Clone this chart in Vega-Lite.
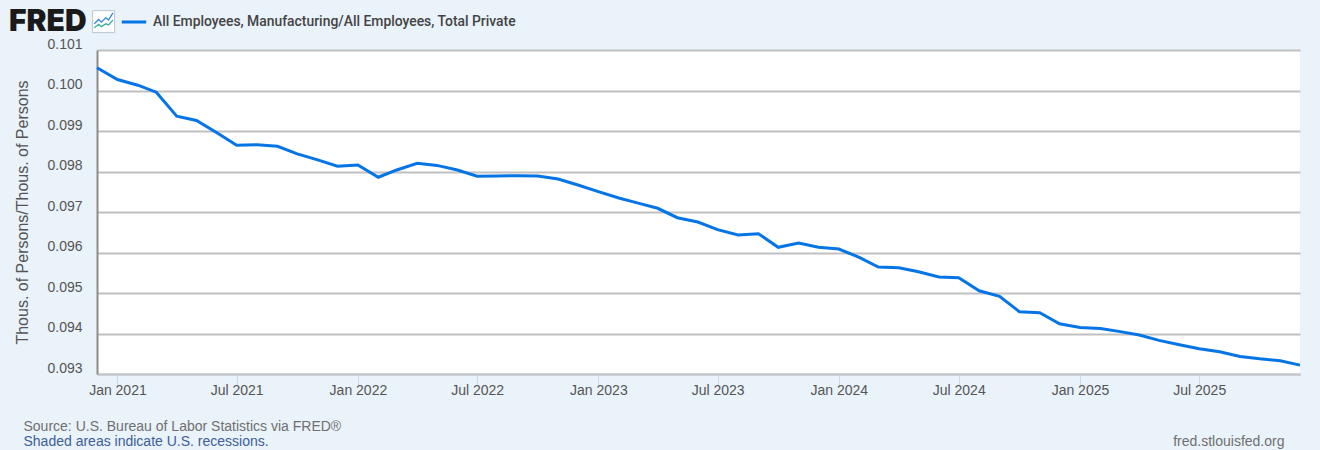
{"$schema":"https://vega.github.io/schema/vega-lite/v6.json","width":1203,"height":324,"autosize":{"type":"none"},"padding":{"left":97,"top":50,"right":20,"bottom":76},"background":"#EAF2FA","view":{"fill":"#FFFFFF","stroke":null},"title":{"text":"FRED","anchor":"start","frame":"group","dx":-88,"dy":46,"offset":17,"font":"Inter","fontWeight":900,"fontSize":30,"color":"#1A1A1A"},"config":{"font":"Liberation Sans"},"data":{"values":[{"date":"2020-12-01","ratio":0.100561},{"date":"2021-01-01","ratio":0.100272},{"date":"2021-02-01","ratio":0.100131},{"date":"2021-03-01","ratio":0.099958},{"date":"2021-04-01","ratio":0.099365},{"date":"2021-05-01","ratio":0.099259},{"date":"2021-06-01","ratio":0.098955},{"date":"2021-07-01","ratio":0.098646},{"date":"2021-08-01","ratio":0.098663},{"date":"2021-09-01","ratio":0.098621},{"date":"2021-10-01","ratio":0.098436},{"date":"2021-11-01","ratio":0.098288},{"date":"2021-12-01","ratio":0.098129},{"date":"2022-01-01","ratio":0.098161},{"date":"2022-02-01","ratio":0.097858},{"date":"2022-03-01","ratio":0.098038},{"date":"2022-04-01","ratio":0.098201},{"date":"2022-05-01","ratio":0.098151},{"date":"2022-06-01","ratio":0.098038},{"date":"2022-07-01","ratio":0.097882},{"date":"2022-08-01","ratio":0.09789},{"date":"2022-09-01","ratio":0.097897},{"date":"2022-10-01","ratio":0.09789},{"date":"2022-11-01","ratio":0.097816},{"date":"2022-12-01","ratio":0.097667},{"date":"2023-01-01","ratio":0.097502},{"date":"2023-02-01","ratio":0.097346},{"date":"2023-03-01","ratio":0.097225},{"date":"2023-04-01","ratio":0.097092},{"date":"2023-05-01","ratio":0.096859},{"date":"2023-06-01","ratio":0.096753},{"date":"2023-07-01","ratio":0.096565},{"date":"2023-08-01","ratio":0.096432},{"date":"2023-09-01","ratio":0.096464},{"date":"2023-10-01","ratio":0.096128},{"date":"2023-11-01","ratio":0.096234},{"date":"2023-12-01","ratio":0.096128},{"date":"2024-01-01","ratio":0.096086},{"date":"2024-02-01","ratio":0.095881},{"date":"2024-03-01","ratio":0.095641},{"date":"2024-04-01","ratio":0.095624},{"date":"2024-05-01","ratio":0.095525},{"date":"2024-06-01","ratio":0.095394},{"date":"2024-07-01","ratio":0.095377},{"date":"2024-08-01","ratio":0.095055},{"date":"2024-09-01","ratio":0.094917},{"date":"2024-10-01","ratio":0.094537},{"date":"2024-11-01","ratio":0.094512},{"date":"2024-12-01","ratio":0.09424},{"date":"2025-01-01","ratio":0.094151},{"date":"2025-02-01","ratio":0.094126},{"date":"2025-03-01","ratio":0.094052},{"date":"2025-04-01","ratio":0.093963},{"date":"2025-05-01","ratio":0.09383},{"date":"2025-06-01","ratio":0.093721},{"date":"2025-07-01","ratio":0.093622},{"date":"2025-08-01","ratio":0.093551},{"date":"2025-09-01","ratio":0.093434},{"date":"2025-10-01","ratio":0.093375},{"date":"2025-11-01","ratio":0.093326},{"date":"2025-12-01","ratio":0.093219}]},"resolve":{"axis":{"x":"independent","y":"independent"}},"layer":[{"mark":{"type":"line","strokeWidth":3,"clip":false},"encoding":{"x":{"field":"date","type":"temporal","scale":{"domain":["2020-12-01","2025-12-01"]},"axis":{"values":["2021-01-01","2021-07-01","2022-01-01","2022-07-01","2023-01-01","2023-07-01","2024-01-01","2024-07-01","2025-01-01","2025-07-01"],"format":"%b %Y","grid":false,"domainColor":"#C4C8D0","domainWidth":2,"tickColor":"#CFD8E6","tickSize":11,"tickWidth":1,"labelFont":"Liberation Sans","labelFontSize":14,"labelColor":"#555555","labelPadding":-2,"labelOverlap":false,"labelFlush":false,"title":"Source: U.S. Bureau of Labor Statistics via FRED®","titleFont":"Liberation Sans","titleFontSize":14,"titleFontWeight":"normal","titleColor":"#707070","titleAlign":"left","titleAnchor":"start","titleBaseline":"alphabetic","titleX":-74,"titleY":56}},"y":{"field":"ratio","type":"quantitative","scale":{"domain":[0.093,0.101],"zero":false,"nice":false},"axis":{"values":[0.093,0.094,0.095,0.096,0.097,0.098,0.099,0.1,0.101],"format":".3f","grid":true,"gridColor":"#C0C0C0","gridWidth":2,"domainColor":"#8C8C8C","domainWidth":2,"ticks":false,"labelFont":"Liberation Sans","labelFontSize":14,"labelColor":"#555555","labelPadding":15,"labelOffset":-6,"labelOverlap":false,"labelFlush":false,"title":"Thous. of Persons/Thous. of Persons","titleFont":"Liberation Sans","titleFontSize":16,"titleFontWeight":"normal","titleColor":"#555555","titleX":-67,"titleY":162}},"color":{"datum":"All Employees, Manufacturing/All Employees, Total Private","type":"nominal","scale":{"range":["#0575E6"]},"legend":{"orient":"none","legendX":23,"legendY":-42,"title":null,"symbolType":"stroke","symbolStrokeWidth":3,"symbolSize":600,"labelFont":"Roboto","labelFontWeight":500,"labelFontSize":13.9,"labelColor":"#444444","labelLimit":500,"labelOffset":5}}}},{"mark":{"type":"line","strokeWidth":3,"opacity":0,"clip":false},"encoding":{"x":{"field":"date","type":"temporal","scale":{"domain":["2020-12-01","2025-12-01"]},"axis":{"orient":"bottom","labels":false,"ticks":false,"domain":false,"grid":false,"title":"Shaded areas indicate U.S. recessions.","titleFont":"Liberation Sans","titleFontSize":14,"titleFontWeight":"normal","titleColor":"#3C6098","titleAlign":"left","titleAnchor":"start","titleBaseline":"alphabetic","titleX":-74,"titleY":71}},"y":{"field":"ratio","type":"quantitative","scale":{"domain":[0.093,0.101],"zero":false,"nice":false},"axis":{"orient":"right","labels":false,"ticks":false,"domain":false,"grid":false,"title":"fred.stlouisfed.org","titleFont":"Liberation Sans","titleFontSize":14,"titleFontWeight":"normal","titleColor":"#707070","titleAngle":0,"titleAlign":"right","titleBaseline":"alphabetic","titleX":-16,"titleY":395}}}},{"data":{"values":[{"item":"icon"}]},"mark":{"type":"point","shape":"square","filled":true,"fill":"#FFFFFF","stroke":"#B8C4D0","strokeWidth":1,"size":484,"opacity":1,"clip":false},"encoding":{"x":{"datum":{"year":2020,"month":12,"date":11},"type":"temporal","axis":null},"y":{"datum":0.1017,"type":"quantitative","axis":null}}},{"data":{"values":[{"item":"icon"}]},"mark":{"type":"point","shape":"M-.85,.2L-.45,-.2L-.2,.05L.2,-.35L.45,-.15L.85,-.8","filled":false,"stroke":"#2E86DE","strokeWidth":1.3,"size":484,"opacity":1,"clip":false},"encoding":{"x":{"datum":{"year":2020,"month":12,"date":11},"type":"temporal","axis":null},"y":{"datum":0.1017,"type":"quantitative","axis":null}}},{"data":{"values":[{"item":"icon"}]},"mark":{"type":"point","shape":"M-.85,.55L-.45,.25L-.2,.45L.2,.2L.45,.3L.85,-.15","filled":false,"stroke":"#3FAF9A","strokeWidth":1.3,"size":484,"opacity":1,"clip":false},"encoding":{"x":{"datum":{"year":2020,"month":12,"date":11},"type":"temporal","axis":null},"y":{"datum":0.1017,"type":"quantitative","axis":null}}}]}
